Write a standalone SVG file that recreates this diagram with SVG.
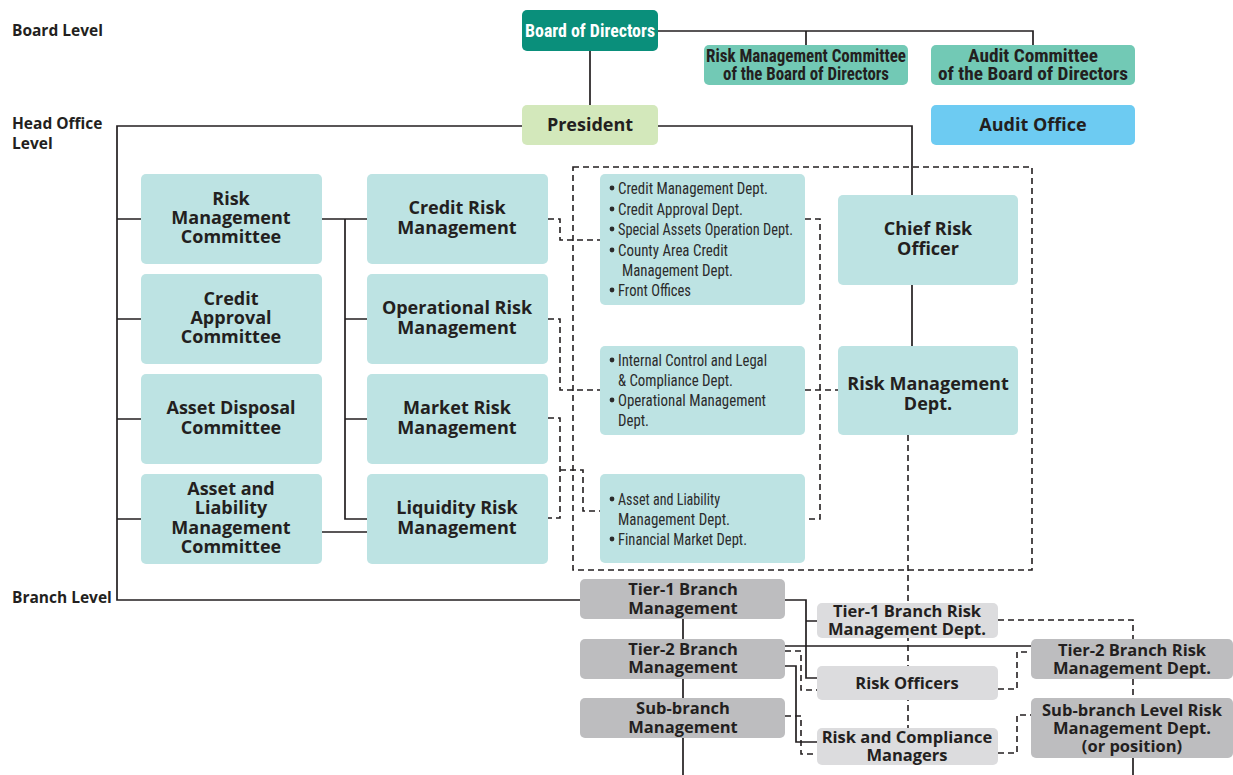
<svg xmlns="http://www.w3.org/2000/svg" width="1233" height="775" viewBox="0 0 1233 775">
  <style>
    .bg { fill: #ffffff; }
    .ln { fill: none; stroke: #231f20; stroke-width: 1.7; }
    .dl { fill: none; stroke: #231f20; stroke-width: 1.6; stroke-dasharray: 6 4; }
    .bold { font-family: "Open Sans", "Noto Sans", "Liberation Sans", sans-serif; font-weight: 700; fill: #231f20; text-anchor: middle; font-size: 18px; }
    .sm { font-size: 16.5px; }
    .lvl { font-family: "Open Sans", "Noto Sans", "Liberation Sans", sans-serif; font-weight: 700; fill: #231f20; font-size: 15.5px; }
    .cond { font-family: "Liberation Sans Narrow", "Roboto Condensed", "Liberation Sans", sans-serif; font-weight: 700; fill: #231f20; text-anchor: middle; font-size: 18px; }
    .white { fill: #ffffff; }
    .list { font-family: "Liberation Sans Narrow", "Roboto Condensed", "Liberation Sans", sans-serif; font-weight: 400; fill: #2b2b2b; font-size: 16px; }
    .dot { fill: #2b2b2b; }
    .teal { fill: #0a8f7b; }
    .mint { fill: #72c9b5; }
    .lime { fill: #d3e8bb; }
    .sky { fill: #6dcbf2; }
    .cyan { fill: #bde3e3; }
    .gray { fill: #bdbdbf; }
    .lgray { fill: #dcdcde; }
  </style>
  <defs>
    <circle id="bullet" class="dot" r="2.4"/>
  </defs>
  <rect class="bg" x="0" y="0" width="1233" height="775"/>

  <!-- level captions -->
  <g id="levels">
    <text class="lvl" x="12" y="36">Board Level</text>
    <text class="lvl" x="12" y="129">Head Office<tspan x="12" dy="20">Level</tspan></text>
    <text class="lvl" x="12" y="603">Branch Level</text>
  </g>

  <!-- connectors -->
  <g id="connectors">
    <path class="ln" d="M658,31 H1033 V45 M806,31 V45 M590,51 V105"/>
    <path class="ln" d="M522,126 H117 V600 H580 M658,126 H912 V195 M912,285 V346"/>
    <path class="ln" d="M117,219 H141 M117,319 H141 M117,419 H141 M117,519 H141"/>
    <path class="ln" d="M322,219 H367 M345,219 V519 H367 M345,319 H367 M345,419 H367 M322,532 H367"/>
    <path class="ln" d="M785,600 H806 V678 H817 M806,621 H817 M785,646 H1031 M785,666 H796 V742 H817"/>
    <path class="ln" d="M683,619 V639 M683,679 V698 M683,738 V775 M1133,758 V775"/>

    <path class="dl" d="M573,167 H1032 V570 H573 Z"/>
    <path class="dl" d="M548,219 H560 V240 H600 M548,319 H560 V390 H600 M548,418 H560 V518 H548 M560,470 H583 V511 H600"/>
    <path class="dl" d="M805,219 H820 V519 H805 M805,390 H838 M908,435 V729"/>
    <path class="dl" d="M785,651 H801 V690 H817 M785,716 H801 V754 H817"/>
    <path class="dl" d="M998,620 H1133 V639 M1133,679 V698 M998,689 H1017 V652 H1031 M998,753 H1017 V715 H1031"/>
  </g>

  <!-- board level -->
  <g id="board">
    <rect class="teal" x="522" y="10" width="136" height="41" rx="5"/>
    <text class="cond white" x="590" y="37" textLength="130" lengthAdjust="spacingAndGlyphs">Board of Directors</text>
  </g>
  <g id="board-risk-committee">
    <rect class="mint" x="704" y="45" width="204" height="40" rx="5"/>
    <text class="cond" x="806" y="62"><tspan textLength="200" lengthAdjust="spacingAndGlyphs">Risk Management Committee</tspan><tspan x="806" dy="18" textLength="166" lengthAdjust="spacingAndGlyphs">of the Board of Directors</tspan></text>
  </g>
  <g id="board-audit-committee">
    <rect class="mint" x="931" y="45" width="204" height="40" rx="5"/>
    <text class="cond" x="1033" y="62"><tspan textLength="130" lengthAdjust="spacingAndGlyphs">Audit Committee</tspan><tspan x="1033" dy="18" textLength="190" lengthAdjust="spacingAndGlyphs">of the Board of Directors</tspan></text>
  </g>

  <!-- head office level -->
  <g id="president">
    <rect class="lime" x="522" y="105" width="136" height="40" rx="5"/>
    <text class="bold" x="590" y="131">President</text>
  </g>
  <g id="audit-office">
    <rect class="sky" x="931" y="105" width="204" height="40" rx="5"/>
    <text class="bold" x="1033" y="131">Audit Office</text>
  </g>

  <g id="risk-management-committee">
    <rect class="cyan" x="141" y="174" width="181" height="90" rx="5"/>
    <text class="bold" x="231" y="205">Risk<tspan x="231" dy="19">Management</tspan><tspan x="231" dy="19">Committee</tspan></text>
  </g>
  <g id="credit-approval-committee">
    <rect class="cyan" x="141" y="274" width="181" height="90" rx="5"/>
    <text class="bold" x="231" y="305">Credit<tspan x="231" dy="19">Approval</tspan><tspan x="231" dy="19">Committee</tspan></text>
  </g>
  <g id="asset-disposal-committee">
    <rect class="cyan" x="141" y="374" width="181" height="90" rx="5"/>
    <text class="bold" x="231" y="414">Asset Disposal<tspan x="231" dy="20">Committee</tspan></text>
  </g>
  <g id="alm-committee">
    <rect class="cyan" x="141" y="474" width="181" height="90" rx="5"/>
    <text class="bold" x="231" y="495">Asset and<tspan x="231" dy="19">Liability</tspan><tspan x="231" dy="20">Management</tspan><tspan x="231" dy="19">Committee</tspan></text>
  </g>

  <g id="credit-risk">
    <rect class="cyan" x="367" y="174" width="181" height="90" rx="5"/>
    <text class="bold" x="457" y="214">Credit Risk<tspan x="457" dy="20">Management</tspan></text>
  </g>
  <g id="operational-risk">
    <rect class="cyan" x="367" y="274" width="181" height="90" rx="5"/>
    <text class="bold" x="457" y="314">Operational Risk<tspan x="457" dy="20">Management</tspan></text>
  </g>
  <g id="market-risk">
    <rect class="cyan" x="367" y="374" width="181" height="90" rx="5"/>
    <text class="bold" x="457" y="414">Market Risk<tspan x="457" dy="20">Management</tspan></text>
  </g>
  <g id="liquidity-risk">
    <rect class="cyan" x="367" y="474" width="181" height="90" rx="5"/>
    <text class="bold" x="457" y="514">Liquidity Risk<tspan x="457" dy="20">Management</tspan></text>
  </g>

  <g id="credit-depts">
    <rect class="cyan" x="600" y="174" width="205" height="131" rx="5"/>
    <use href="#bullet" x="612" y="188"/>
    <use href="#bullet" x="612" y="209"/>
    <use href="#bullet" x="612" y="229"/>
    <use href="#bullet" x="612" y="250"/>
    <use href="#bullet" x="612" y="290"/>
    <text class="list" x="618" y="194"><tspan textLength="150" lengthAdjust="spacingAndGlyphs">Credit Management Dept.</tspan><tspan x="618" y="215" textLength="125" lengthAdjust="spacingAndGlyphs">Credit Approval Dept.</tspan><tspan x="618" y="235" textLength="175" lengthAdjust="spacingAndGlyphs">Special Assets Operation Dept.</tspan><tspan x="618" y="256" textLength="110" lengthAdjust="spacingAndGlyphs">County Area Credit</tspan><tspan x="622" y="276" textLength="111" lengthAdjust="spacingAndGlyphs">Management Dept.</tspan><tspan x="618" y="296" textLength="73" lengthAdjust="spacingAndGlyphs">Front Offices</tspan></text>
  </g>
  <g id="operational-depts">
    <rect class="cyan" x="600" y="346" width="205" height="89" rx="5"/>
    <use href="#bullet" x="612" y="360"/>
    <use href="#bullet" x="612" y="400"/>
    <text class="list" x="618" y="366"><tspan textLength="149" lengthAdjust="spacingAndGlyphs">Internal Control and Legal</tspan><tspan x="618" y="386" textLength="115" lengthAdjust="spacingAndGlyphs">&amp; Compliance Dept.</tspan><tspan x="618" y="406" textLength="148" lengthAdjust="spacingAndGlyphs">Operational Management</tspan><tspan x="618" y="426" textLength="31" lengthAdjust="spacingAndGlyphs">Dept.</tspan></text>
  </g>
  <g id="alm-depts">
    <rect class="cyan" x="600" y="474" width="205" height="89" rx="5"/>
    <use href="#bullet" x="612" y="499"/>
    <use href="#bullet" x="612" y="539"/>
    <text class="list" x="618" y="505"><tspan textLength="102" lengthAdjust="spacingAndGlyphs">Asset and Liability</tspan><tspan x="618" y="525" textLength="112" lengthAdjust="spacingAndGlyphs">Management Dept.</tspan><tspan x="618" y="545" textLength="129" lengthAdjust="spacingAndGlyphs">Financial Market Dept.</tspan></text>
  </g>

  <g id="chief-risk-officer">
    <rect class="cyan" x="838" y="195" width="180" height="90" rx="5"/>
    <text class="bold" x="928" y="235">Chief Risk<tspan x="928" dy="20">Officer</tspan></text>
  </g>
  <g id="risk-management-dept">
    <rect class="cyan" x="838" y="346" width="180" height="89" rx="5"/>
    <text class="bold" x="928" y="390">Risk Management<tspan x="928" dy="20">Dept.</tspan></text>
  </g>

  <!-- branch level -->
  <g id="tier1-branch">
    <rect class="gray" x="580" y="579" width="205" height="40" rx="5"/>
    <text class="bold sm" x="683" y="595">Tier-1 Branch<tspan x="683" dy="19">Management</tspan></text>
  </g>
  <g id="tier2-branch">
    <rect class="gray" x="580" y="639" width="205" height="40" rx="5"/>
    <text class="bold sm" x="683" y="655">Tier-2 Branch<tspan x="683" dy="18">Management</tspan></text>
  </g>
  <g id="sub-branch">
    <rect class="gray" x="580" y="698" width="205" height="40" rx="5"/>
    <text class="bold sm" x="683" y="714">Sub-branch<tspan x="683" dy="19">Management</tspan></text>
  </g>
  <g id="tier1-risk-dept">
    <rect class="lgray" x="817" y="603" width="181" height="35" rx="5"/>
    <text class="bold sm" x="907" y="617">Tier-1 Branch Risk<tspan x="907" dy="18">Management Dept.</tspan></text>
  </g>
  <g id="risk-officers">
    <rect class="lgray" x="817" y="666" width="181" height="34" rx="5"/>
    <text class="bold sm" x="907" y="689">Risk Officers</text>
  </g>
  <g id="risk-compliance-managers">
    <rect class="lgray" x="817" y="728" width="181" height="37" rx="5"/>
    <text class="bold sm" x="907" y="743">Risk and Compliance<tspan x="907" dy="18">Managers</tspan></text>
  </g>
  <g id="tier2-risk-dept">
    <rect class="gray" x="1031" y="639" width="202" height="40" rx="5"/>
    <text class="bold sm" x="1132" y="656">Tier-2 Branch Risk<tspan x="1132" dy="18">Management Dept.</tspan></text>
  </g>
  <g id="sub-branch-risk-dept">
    <rect class="gray" x="1031" y="698" width="202" height="60" rx="5"/>
    <text class="bold sm" x="1132" y="716">Sub-branch Level Risk<tspan x="1132" dy="18">Management Dept.</tspan><tspan x="1132" dy="18">(or position)</tspan></text>
  </g>
</svg>
